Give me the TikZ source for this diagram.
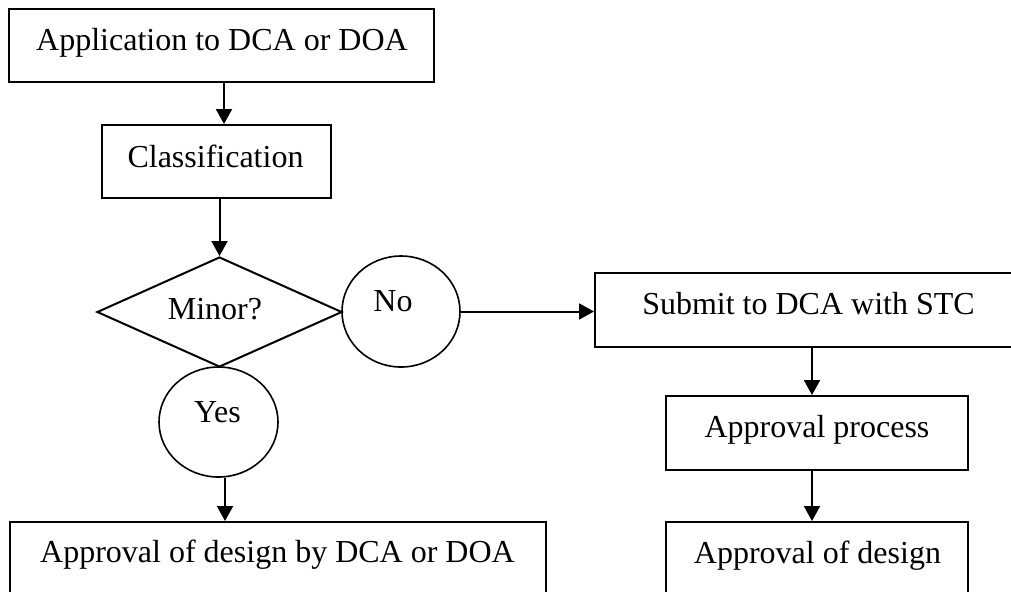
\documentclass[tikz,border=0pt]{standalone}
\usepackage{fontspec}
\setmainfont{Liberation Serif}
\usetikzlibrary{shapes.geometric,arrows.meta}
\tikzset{
  boxnode/.style={draw, line width=1pt, rectangle, inner sep=0pt},
  shapenode/.style={draw, line width=0.8pt, inner sep=0pt},
  txt/.style={inner sep=0pt, anchor=base, font=\fontsize{16}{19}\selectfont},
  arr/.style={line width=1pt, -{Triangle[length=7.5pt,width=8pt]}},
  plain/.style={line width=1pt}
}
\begin{document}
\begin{tikzpicture}[x=0.5pt,y=-0.5pt]
\useasboundingbox (0,0) rectangle (1011,591);
\clip (0,0) rectangle (1011,591);
\fill[white] (0,0) rectangle (1011,591);

% boxes
\node[boxnode, minimum width=212.5pt, minimum height=36.5pt] (b1) at (221.5,45.5) {};
\node[txt] (t1) at (222,50) {Application to DCA or DOA};

\node[boxnode, minimum width=114.5pt, minimum height=36.5pt] (b2) at (216.5,161.5) {};
\node[txt] (t2) at (215.5,167) {Classification};

\node[shapenode, line width=1pt, diamond, minimum width=122.5pt, minimum height=55pt] (d) at (219.5,312) {};
\node[txt] (td) at (215,319) {Minor?};

\node[shapenode, ellipse, minimum width=59pt, minimum height=55.5pt] (no) at (401,311.5) {};
\node[txt] (tno) at (393,311) {No};

\node[shapenode, ellipse, minimum width=59.5pt, minimum height=55pt] (yes) at (218.5,422) {};
\node[txt] (tyes) at (217.5,422) {Yes};

\node[boxnode, minimum width=213.5pt, minimum height=37pt] (s) at (808.5,310) {};
\node[txt] (ts) at (808.5,314) {Submit to DCA with STC};

\node[boxnode, minimum width=151pt, minimum height=37pt] (p) at (817,433) {};
\node[txt] (tp) at (817,437) {Approval process};

\node[boxnode, minimum width=151pt, minimum height=39pt] (ad) at (817,561) {};
\node[txt] (tad) at (817.5,563) {Approval of design};

\node[boxnode, minimum width=268pt, minimum height=39pt] (bl) at (278,561) {};
\node[txt] (tbl) at (277.5,562) {Approval of design by DCA or DOA};

% connectors
\draw[arr] ([xshift=1.25pt]b1.south) -- ([xshift=1.25pt]b1.south |- b2.north);
\draw[arr] (d.north |- b2.south) -- (d.north);
\draw[arr] (no.east) -- (no.east -| s.west);
\draw[arr] ([xshift=3.25pt]yes.south) -- ([xshift=3.25pt]yes.south |- bl.north);
\draw[arr] ([xshift=-2.5pt]p.north |- s.south) -- ([xshift=-2.5pt]p.north);
\draw[arr] ([xshift=-2.5pt]p.south) -- ([xshift=-2.5pt]p.south |- ad.north);
\end{tikzpicture}
\end{document}
